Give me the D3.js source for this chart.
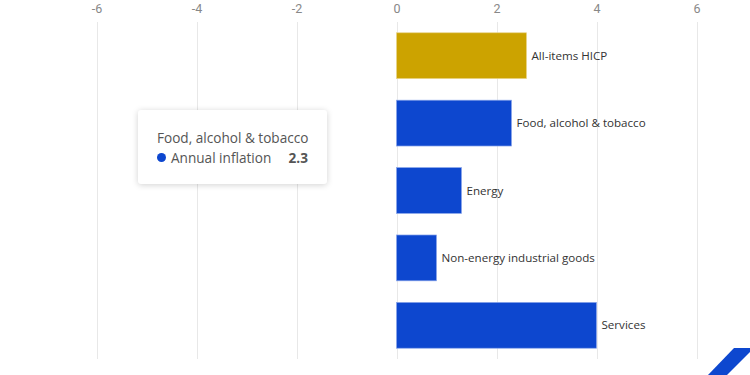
<!DOCTYPE html>
<html>
<head>
<meta charset="utf-8">
<script src="https://cdn.jsdelivr.net/npm/d3@7"></script>
<style>
  body { margin: 0; background: #fff; }
  #chart { position: relative; width: 750px; height: 375px; overflow: hidden; }
  .tip {
    position: absolute; left: 138px; top: 110px; width: 189px; height: 74px;
    background: #fff; border-radius: 3px; box-shadow: 0 1px 6px rgba(0,0,0,0.18);
    font-family: "Open Sans", sans-serif; font-size: 13.6px; color: #555; box-sizing: border-box;
    padding: 18px 0 0 19px; line-height: 19px;
  }
</style>
</head>
<body>
<div id="chart"></div>
<script>
// data
var categories = ["All-items HICP", "Food, alcohol & tobacco", "Energy", "Non-energy industrial goods", "Services"];
var inflation = [2.6, 2.3, 1.3, 0.8, 4.0];
var tickValues = [-6, -4, -2, 0, 2, 4, 6];

var data = categories.map(function(c, i){ return {name: c, value: inflation[i]}; });

var width = 750, height = 375;

var svg = d3.select("#chart").append("svg")
    .attr("width", width)
    .attr("height", height);

// scales
var x = d3.scaleLinear()
    .domain([-6, 6])
    .range([96.5, 696.5]);

var y = d3.scaleBand()
    .domain(categories)
    .range([22, 359])
    .paddingInner(0.32)
    .paddingOuter(0.16);

// grid
svg.selectAll(".grid")
  .data(tickValues)
  .enter()
  .append("line")
    .attr("x1", function(d){ return Math.round(x(d)) + 0.5; })
    .attr("x2", function(d){ return Math.round(x(d)) + 0.5; })
    .attr("y1", 22)
    .attr("y2", 359)
    .attr("stroke", "#e8e8e8")
    .attr("stroke-width", 1);

// top axis labels
var xAxis = d3.axisTop(x)
    .tickValues(tickValues)
    .tickSize(0)
    .tickPadding(0)
    .tickFormat(function(d){ return String(d); });
var gx = svg.append("g")
    .attr("transform", "translate(0, 13)")
    .call(xAxis);
gx.select(".domain").remove();
gx.selectAll("text")
    .attr("font-family", "Roboto, sans-serif")
    .attr("font-size", "12.5px")
    .attr("fill", "#888");

// bars
svg.selectAll(".bar")
  .data(data)
  .enter()
  .append("rect")
    .attr("x", function(d){ return x(Math.min(0, d.value)); })
    .attr("y", function(d){ return y(d.name); })
    .attr("width", function(d){ return Math.abs(x(d.value) - x(0)); })
    .attr("height", y.bandwidth())
    .attr("fill", function(d, i){ return i === 0 ? "#cca300" : "#0d47cf"; })
    .attr("stroke", function(d, i){ return i === 0 ? "#e8d48a" : "#8aa6ea"; })
    .attr("stroke-width", 0.7);

// bar labels
svg.selectAll(".label")
  .data(data)
  .enter()
  .append("text")
    .attr("x", function(d){ return x(d.value) + 5; })
    .attr("y", function(d){ return y(d.name) + y.bandwidth() / 2; })
    .attr("dy", "0.35em")
    .attr("font-family", "'Open Sans', sans-serif")
    .attr("font-size", "11.6px")
    .attr("fill", "#333")
    .text(function(d){ return d.name; });

// corner shape
svg.append("polygon")
    .attr("points", "734,348 750,348 750,352 727,375 708,375")
    .attr("fill", "#0d47cf");

// tooltip
var tipData = data[1];
var tip = d3.select("#chart").append("div").attr("class", "tip");
tip.append("div").text(tipData.name);
var row = tip.append("div").style("margin-top", "1px").style("display", "flex").style("align-items", "center");
row.append("span")
    .style("display", "inline-block").style("width", "9px").style("height", "9px")
    .style("border-radius", "50%").style("background", "#0d47cf").style("margin-right", "5px");
row.append("span").text("Annual inflation");
row.append("span").style("margin-left", "auto").style("margin-right", "19px")
    .style("font-weight", "bold").text(tipData.value);
</script>
</body>
</html>
